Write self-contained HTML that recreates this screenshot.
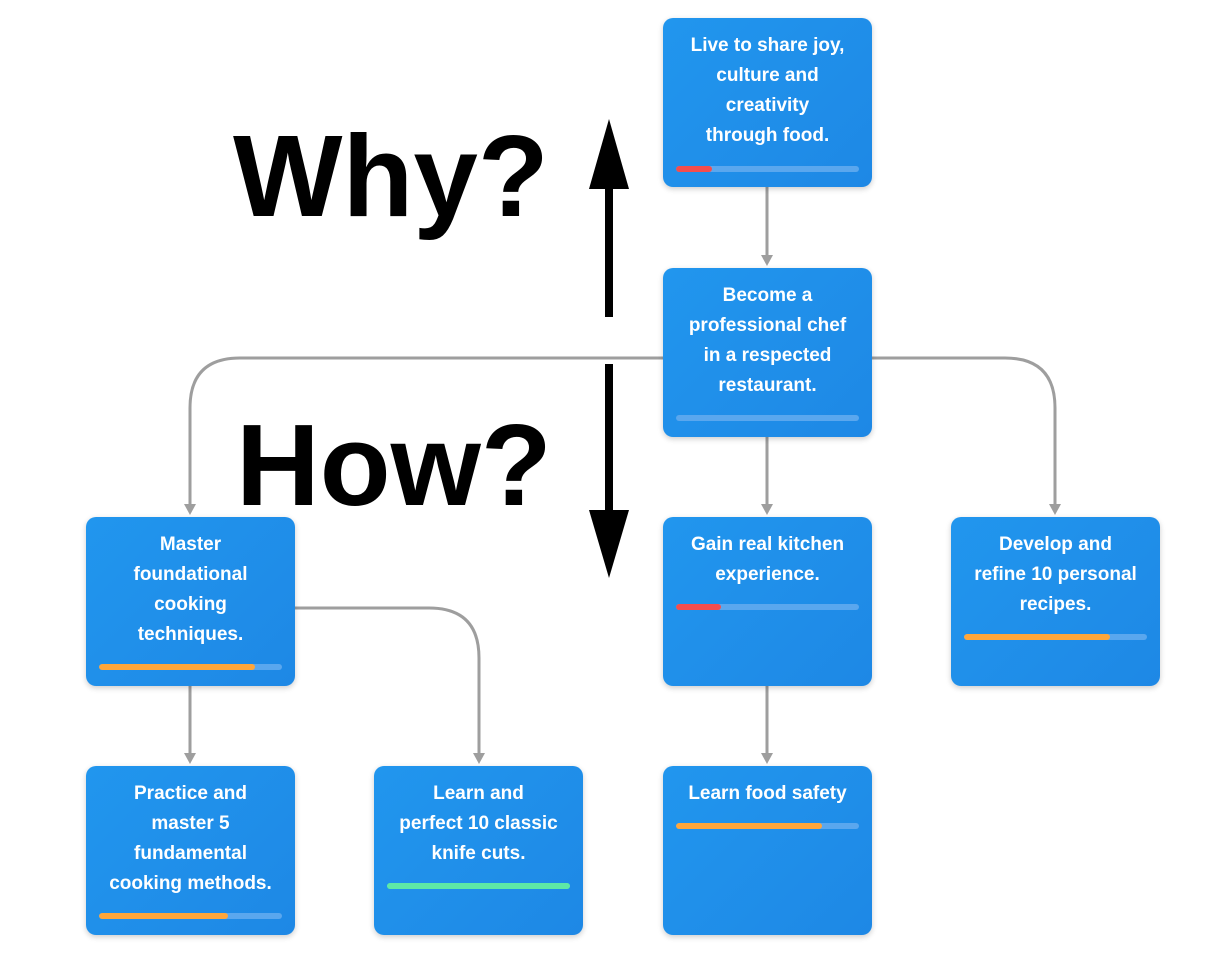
<!DOCTYPE html>
<html><head><style>
body{margin:0;width:1231px;height:956px;background:#fff;position:relative;overflow:hidden;font-family:"Liberation Sans",sans-serif;}
.n{position:absolute;width:209px;height:169px;border-radius:10px;background:linear-gradient(135deg,#2196ee,#1e88e5);box-shadow:0 2px 6px rgba(0,0,0,0.2);color:#fff;font-weight:bold;font-size:19px;line-height:30px;text-align:center;box-sizing:border-box;padding:13px 4px 0;white-space:nowrap}
.b{position:absolute;left:13px;width:183px;height:6px;border-radius:3px;background:#5aa7ee;overflow:hidden}
.b i{display:block;height:100%;border-radius:3px}
.big{position:absolute;font-weight:bold;font-size:116px;color:#000;line-height:1}
</style></head><body>
<svg width="1231" height="956" style="position:absolute;left:0;top:0">
<g stroke="#9e9e9e" stroke-width="3" fill="none">
<path d="M767 187V258"/>
<path d="M767 436V507"/>
<path d="M767 686V756"/>
<path d="M190 686V756"/>
<path d="M663 358H240Q190 358 190 408V507"/>
<path d="M872 358H1005Q1055 358 1055 408V507"/>
<path d="M295 608H429Q479 608 479 658V756"/>
</g>
<g fill="#9e9e9e">
<path d="M761 255L773 255L767 266Z"/>
<path d="M761 504L773 504L767 515Z"/>
<path d="M761 753L773 753L767 764Z"/>
<path d="M184 753L196 753L190 764Z"/>
<path d="M184 504L196 504L190 515Z"/>
<path d="M1049 504L1061 504L1055 515Z"/>
<path d="M473 753L485 753L479 764Z"/>
</g>
<rect x="605" y="185" width="8" height="132" fill="#000"/>
<path d="M589 189L629 189L609 119Z" fill="#000"/>
<rect x="605" y="364" width="8" height="150" fill="#000"/>
<path d="M589 510L629 510L609 578Z" fill="#000"/>
</svg>
<div class="big" style="left:233px;top:118px">Why?</div>
<div class="big" style="left:236px;top:407px">How?</div>

<div class="n" style="left:663px;top:18px">Live to share joy,<br>culture and<br>creativity<br>through food.<div class="b" style="top:148px"><i style="width:36px;background:#f44d4d"></i></div></div>
<div class="n" style="left:663px;top:268px">Become a<br>professional chef<br>in a respected<br>restaurant.<div class="b" style="top:147px"></div></div>
<div class="n" style="left:86px;top:517px">Master<br>foundational<br>cooking<br>techniques.<div class="b" style="top:147px"><i style="width:156px;background:#ffa63a"></i></div></div>
<div class="n" style="left:663px;top:517px">Gain real kitchen<br>experience.<div class="b" style="top:87px"><i style="width:45px;background:#f44d4d"></i></div></div>
<div class="n" style="left:951px;top:517px">Develop and<br>refine 10 personal<br>recipes.<div class="b" style="top:117px"><i style="width:146px;background:#ffa63a"></i></div></div>
<div class="n" style="left:86px;top:766px">Practice and<br>master 5<br>fundamental<br>cooking methods.<div class="b" style="top:147px"><i style="width:129px;background:#ffa63a"></i></div></div>
<div class="n" style="left:374px;top:766px">Learn and<br>perfect 10 classic<br>knife cuts.<div class="b" style="top:117px;background:#5ee8a6"><i style="width:100%;background:#5ee8a6"></i></div></div>
<div class="n" style="left:663px;top:766px">Learn food safety<div class="b" style="top:57px"><i style="width:146px;background:#ffa63a"></i></div></div>
</body></html>
